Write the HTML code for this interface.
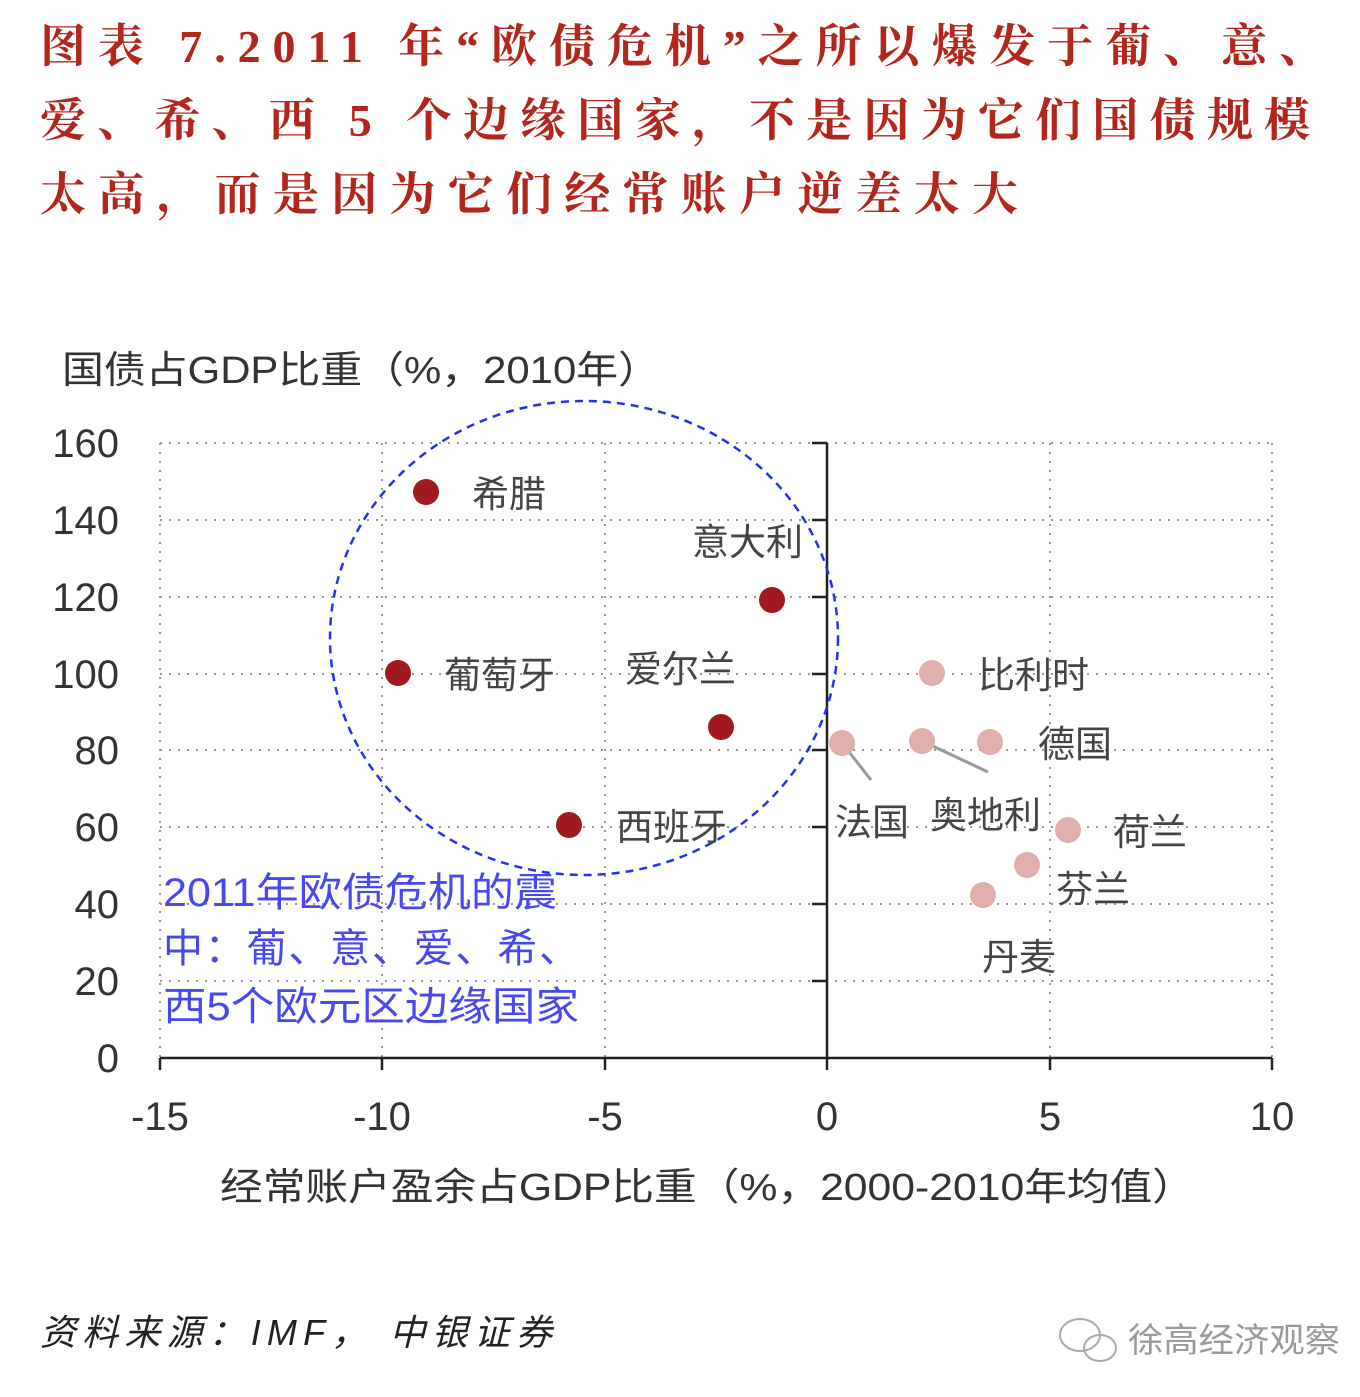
<!DOCTYPE html>
<html><head><meta charset="utf-8"><style>
body{margin:0;background:#fff;width:1360px;height:1392px;overflow:hidden}
svg text{font-family:"Liberation Sans","Noto Sans CJK SC",sans-serif}
.t{font-family:"Liberation Serif","Noto Serif CJK SC",serif;font-weight:bold;fill:#b3261e;font-size:46px}
</style></head><body>
<svg width="1360" height="1392" xmlns="http://www.w3.org/2000/svg">
<text class="t" x="40" y="62" textLength="1285" lengthAdjust="spacing">图表 7.2011 年“欧债危机”之所以爆发于葡、意、</text>
<text class="t" x="40" y="136" textLength="1270" lengthAdjust="spacing">爱、希、西 5 个边缘国家，不是因为它们国债规模</text>
<text class="t" x="40" y="210" textLength="978" lengthAdjust="spacing">太高，而是因为它们经常账户逆差太大</text>
<text x="62" y="383" font-size="38" fill="#333" textLength="598" lengthAdjust="spacingAndGlyphs">国债占GDP比重（%，2010年）</text>
<g stroke="#999" stroke-width="2" stroke-dasharray="2 7">
<line x1="160" y1="443" x2="1272" y2="443"/><line x1="160" y1="520" x2="1272" y2="520"/>
<line x1="160" y1="597" x2="1272" y2="597"/><line x1="160" y1="674" x2="1272" y2="674"/>
<line x1="160" y1="750" x2="1272" y2="750"/><line x1="160" y1="827" x2="1272" y2="827"/>
<line x1="160" y1="904" x2="1272" y2="904"/><line x1="160" y1="981" x2="1272" y2="981"/>
<line x1="160" y1="443" x2="160" y2="1058"/><line x1="382" y1="443" x2="382" y2="1058"/>
<line x1="605" y1="443" x2="605" y2="1058"/><line x1="1050" y1="443" x2="1050" y2="1058"/>
<line x1="1272" y1="443" x2="1272" y2="1058"/>
</g>
<g stroke="#222" stroke-width="2.5">
<line x1="160" y1="1058" x2="1272" y2="1058"/><line x1="827" y1="443" x2="827" y2="1058"/>
<line x1="160" y1="1058" x2="160" y2="1070"/><line x1="382" y1="1058" x2="382" y2="1070"/>
<line x1="605" y1="1058" x2="605" y2="1070"/><line x1="827" y1="1058" x2="827" y2="1070"/>
<line x1="1050" y1="1058" x2="1050" y2="1070"/><line x1="1272" y1="1058" x2="1272" y2="1070"/>
<line x1="812" y1="443" x2="827" y2="443"/><line x1="812" y1="520" x2="827" y2="520"/>
<line x1="812" y1="597" x2="827" y2="597"/><line x1="812" y1="674" x2="827" y2="674"/>
<line x1="812" y1="750" x2="827" y2="750"/><line x1="812" y1="827" x2="827" y2="827"/>
<line x1="812" y1="904" x2="827" y2="904"/><line x1="812" y1="981" x2="827" y2="981"/>
</g>
<g font-size="40" fill="#333" text-anchor="end">
<text x="119" y="457">160</text><text x="119" y="534">140</text><text x="119" y="611">120</text>
<text x="119" y="688">100</text><text x="119" y="764">80</text><text x="119" y="841">60</text>
<text x="119" y="918">40</text><text x="119" y="995">20</text><text x="119" y="1072">0</text>
</g>
<g font-size="40" fill="#333" text-anchor="middle">
<text x="160" y="1130">-15</text><text x="382" y="1130">-10</text><text x="605" y="1130">-5</text>
<text x="827" y="1130">0</text><text x="1050" y="1130">5</text><text x="1272" y="1130">10</text>
</g>
<text x="220" y="1200" font-size="38" fill="#333" textLength="975" lengthAdjust="spacingAndGlyphs">经常账户盈余占GDP比重（%，2000-2010年均值）</text>
<ellipse cx="584" cy="638" rx="254" ry="237" fill="none" stroke="#2233ee" stroke-width="2.5" stroke-dasharray="8 6"/>
<g stroke="#999" stroke-width="3"><line x1="842" y1="743" x2="871" y2="780"/><line x1="922" y1="741" x2="988" y2="772"/></g>
<g fill="#a11a1f">
<circle cx="426" cy="492" r="13"/><circle cx="772" cy="600" r="13"/><circle cx="398" cy="673" r="13"/>
<circle cx="721" cy="727" r="13"/><circle cx="569" cy="825" r="13"/>
</g>
<g fill="#e2aeac">
<circle cx="932" cy="673" r="13"/><circle cx="842" cy="743" r="13"/><circle cx="922" cy="741" r="13"/>
<circle cx="990" cy="742" r="13"/><circle cx="1068" cy="830" r="13"/><circle cx="1027" cy="865" r="13"/>
<circle cx="983" cy="895" r="13"/>
</g>
<g font-size="37" fill="#444">
<text x="472" y="507">希腊</text><text x="692" y="555">意大利</text><text x="444" y="688">葡萄牙</text>
<text x="625" y="682">爱尔兰</text><text x="616" y="840">西班牙</text>
<text x="978" y="688">比利时</text><text x="1038" y="757">德国</text><text x="835" y="835">法国</text>
<text x="930" y="828">奥地利</text><text x="1113" y="845">荷兰</text><text x="1056" y="902">芬兰</text>
<text x="982" y="970">丹麦</text>
</g>
<g font-size="40" fill="#4848f0">
<text x="163" y="906" textLength="394" lengthAdjust="spacingAndGlyphs">2011年欧债危机的震</text>
<text x="163" y="962" textLength="416" lengthAdjust="spacing">中：葡、意、爱、希、</text>
<text x="163" y="1020" textLength="416" lengthAdjust="spacingAndGlyphs">西5个欧元区边缘国家</text>
</g>
<text x="40" y="1345" font-size="36" fill="#222" font-style="italic" font-family="Liberation Serif,Noto Serif CJK SC,serif" textLength="512" lengthAdjust="spacing">资料来源：IMF，  中银证券</text>
<text x="1128" y="1352" font-size="34" fill="#999" textLength="212" lengthAdjust="spacingAndGlyphs">徐高经济观察</text>
<g fill="none" stroke="#aaa" stroke-width="2"><ellipse cx="1080" cy="1335" rx="20" ry="16"/><ellipse cx="1100" cy="1348" rx="16" ry="13"/></g>
</svg>
</body></html>
